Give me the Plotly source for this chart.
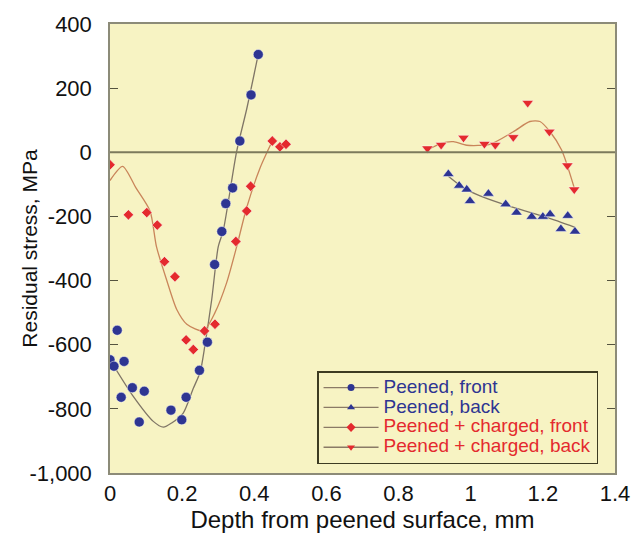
import plotly.graph_objects as go

# ---- data ----
front_x = [0.000, 0.011, 0.020, 0.031, 0.039, 0.062, 0.081, 0.095, 0.169, 0.199, 0.211,
           0.248, 0.270, 0.290, 0.310, 0.321, 0.340, 0.360, 0.391, 0.411]
front_y = [-647, -667, -555, -764, -652, -734, -841, -745, -804, -834, -764,
           -680, -592, -350, -247, -160, -111, 35, 179, 305]
front_fit_x = [0.000, 0.065, 0.120, 0.148, 0.171, 0.203, 0.231, 0.250, 0.263, 0.282,
               0.300, 0.314, 0.351, 0.379, 0.411]
front_fit_y = [-647, -762, -839, -857, -844, -813, -736, -685, -603, -459,
               -295, -244, 2, 135, 305]

back_x = [0.938, 0.968, 0.989, 0.998, 1.049, 1.097, 1.127, 1.169, 1.200, 1.220, 1.250, 1.269, 1.289]
back_y = [-68, -104, -116, -152, -129, -162, -188, -201, -201, -193, -239, -198, -247]
back_fit_x = [0.938, 0.980, 1.026, 1.118, 1.211, 1.289]
back_fit_y = [-75, -111, -136, -172, -203, -234]

chg_front_x = [0.000, 0.051, 0.102, 0.131, 0.151, 0.180, 0.211, 0.231, 0.262, 0.291,
               0.349, 0.379, 0.390, 0.450, 0.471, 0.488]
chg_front_y = [-39, -195, -188, -227, -341, -388, -585, -615, -557, -536,
               -278, -183, -106, 35, 17, 25]
chg_front_fit_x = [0.000, 0.035, 0.072, 0.111, 0.129, 0.157, 0.185, 0.213, 0.259, 0.291,
                   0.323, 0.351, 0.379, 0.416, 0.450]
chg_front_fit_y = [-88, -44, -111, -183, -295, -398, -490, -536, -557, -500,
                   -408, -295, -172, -49, 35]

chg_back_x = [0.880, 0.918, 0.980, 1.038, 1.068, 1.118, 1.158, 1.218, 1.268, 1.287]
chg_back_y = [12, 23, 45, 26, 23, 47, 154, 64, -41, -116]
chg_back_fit_x = [0.880, 0.918, 0.952, 0.989, 1.053, 1.118, 1.164, 1.192, 1.220, 1.252, 1.287]
chg_back_fit_y = [7, 28, 33, 22, 25, 64, 96, 96, 64, 7, -111]

y_tickvals = [400, 200, 0, -200, -400, -600, -800, -1000]
y_ticktext = ["400", "200", "0", "-200", "-400", "-600", "-800", "-1,000"]
x_tickvals = [0, 0.2, 0.4, 0.6, 0.8, 1.0, 1.2, 1.4]
x_ticktext = ["0", "0.2", "0.4", "0.6", "0.8", "1", "1.2", "1.4"]

BLUE = "#2e3592"
RED = "#e42a2e"
LINE_BLUE = "#7f7566"
LINE_RED = "#c9855a"
LEG_LINE = "#8a7a66"
BG = "#f7f3c3"

fig = go.Figure()

# fit lines
for fx, fy, col in [(front_fit_x, front_fit_y, LINE_BLUE),
                    (back_fit_x, back_fit_y, LINE_BLUE),
                    (chg_front_fit_x, chg_front_fit_y, LINE_RED),
                    (chg_back_fit_x, chg_back_fit_y, LINE_RED)]:
    fig.add_trace(go.Scatter(x=fx, y=fy, mode="lines", showlegend=False,
                             line=dict(color=col, width=1.3, shape="spline", smoothing=0.7),
                             hoverinfo="skip"))

# zero line
fig.add_hline(y=0, line=dict(color="#7c7a5c", width=2))

series = [
    (front_x, front_y, "circle", 10, BLUE, "Peened, front"),
    (back_x, back_y, "triangle-up", 10, BLUE, "Peened, back"),
    (chg_front_x, chg_front_y, "diamond", 8, RED, "Peened + charged, front"),
    (chg_back_x, chg_back_y, "triangle-down", 10, RED, "Peened + charged, back"),
]
for sx, sy, sym, sz, col, name in series:
    fig.add_trace(go.Scatter(x=sx, y=sy, mode="markers", showlegend=False,
                             marker=dict(symbol=sym, size=sz, color=col,
                                         line=dict(color="rgba(255,255,255,0.6)", width=0.8))))
for sx, sy, sym, sz, col, name in series:
    fig.add_trace(go.Scatter(x=[None], y=[None], mode="lines+markers",
                             name=f"<span style='color:{col};font-size:19px'>{name}</span>",
                             line=dict(color=LEG_LINE, width=1.3),
                             marker=dict(symbol=sym, size=7, color=col)))

fig.update_layout(
    width=644, height=535,
    margin=dict(l=102, r=37, t=16, b=70),
    paper_bgcolor="white",
    plot_bgcolor=BG,
    font=dict(family="Liberation Sans, Arial, sans-serif", size=22, color="#111111"),
    legend=dict(x=0.41, y=0.227, xanchor="left", yanchor="top",
                bgcolor=BG, bordercolor="#3d3b22", borderwidth=1.5,
                font=dict(size=13), tracegroupgap=0, itemwidth=55),
    annotations=[dict(text="Residual stress, MPa", textangle=-90,
                      xref="paper", yref="paper", x=-0.16, y=0.5,
                      xanchor="center", yanchor="middle", showarrow=False,
                      font=dict(size=21))],
)
fig.update_xaxes(range=[0, 1.4], tickvals=x_tickvals, ticktext=x_ticktext,
                 showgrid=False, zeroline=False, showline=True, mirror=True,
                 linecolor="#8c8b78", linewidth=1.5, ticks="", automargin=False,
                 title=dict(text="Depth from peened surface, mm", standoff=0,
                            font=dict(size=24)))
fig.update_yaxes(range=[-1000, 400], tickvals=y_tickvals, ticktext=y_ticktext,
                 showgrid=False, zeroline=False, showline=True, mirror="allticks",
                 linecolor="#8c8b78", linewidth=1.5, ticks="inside", ticklen=8,
                 tickcolor="#55533f", automargin=False, ticklabelstandoff=12)

fig.write_html("out.html")
